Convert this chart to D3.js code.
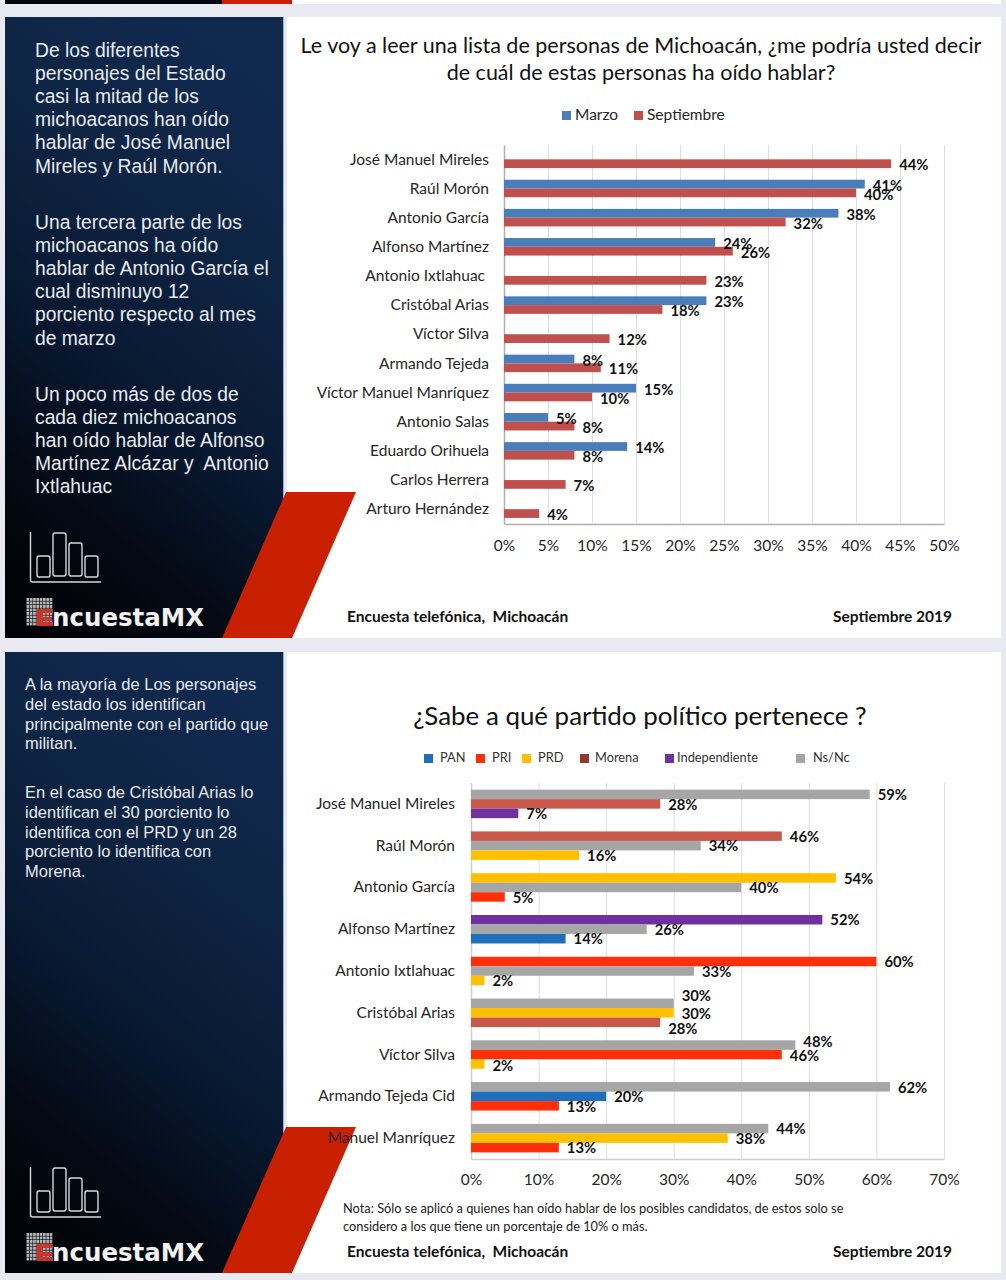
<!DOCTYPE html>
<html>
<head>
<meta charset="utf-8">
<script src="https://cdn.jsdelivr.net/npm/d3@7"></script>
<style>
  html, body { margin: 0; padding: 0; background: #e9eaf1; }
  svg { display: block; }
  text { font-family: Lato, sans-serif; fill: #1a1a1a; }
  .side text { font-family: "Liberation Sans", Arial, sans-serif; fill: #e8ebf1; }
  .cat .tick text { white-space: pre; }
</style>
</head>
<body>
<div id="chart"></div>
<script>
// first chart data
const names1 = ["José Manuel Mireles", "Raúl Morón", "Antonio García", "Alfonso Martínez",
  "Antonio Ixtlahuac ", "Cristóbal Arias", "Víctor Silva", "Armando Tejeda",
  "Víctor Manuel Manríquez", "Antonio Salas", "Eduardo Orihuela", "Carlos Herrera", "Arturo Hernández"];
const marzo = [null, 41, 38, 24, null, 23, null, 8, 15, 5, 14, null, null];
const septiembre = [44, 40, 32, 26, 23, 18, 12, 11, 10, 8, 8, 7, 4];
const ticks1 = [0, 5, 10, 15, 20, 25, 30, 35, 40, 45, 50];

// second chart data, every person only has three parties and the order changes
const names2 = ["José Manuel Mireles", "Raúl Morón", "Antonio García", "Alfonso Martínez",
  "Antonio Ixtlahuac", "Cristóbal Arias", "Víctor Silva", "Armando Tejeda Cid", "Manuel Manríquez"];
const parties2 = [
  ["Ns/Nc", "Morena", "Independiente"],
  ["Morena", "Ns/Nc", "PRD"],
  ["PRD", "Ns/Nc", "PRI"],
  ["Independiente", "Ns/Nc", "PAN"],
  ["PRI", "Ns/Nc", "PRD"],
  ["Ns/Nc", "PRD", "Morena"],
  ["Ns/Nc", "PRI", "PRD"],
  ["Ns/Nc", "PAN", "PRI"],
  ["Ns/Nc", "PRD", "PRI"]
];
const values2 = [
  [59, 28, 7],
  [46, 34, 16],
  [54, 40, 5],
  [52, 26, 14],
  [60, 33, 2],
  [30, 30, 28],
  [48, 46, 2],
  [62, 20, 13],
  [44, 38, 13]
];
const ticks2 = [0, 10, 20, 30, 40, 50, 60, 70];
const partyNames = ["PAN", "PRI", "PRD", "Morena", "Independiente", "Ns/Nc"];

const text1 = [
  ["De los diferentes", "personajes del Estado", "casi la mitad de los", "michoacanos han oído", "hablar de José Manuel", "Mireles y Raúl Morón."],
  ["Una tercera parte de los", "michoacanos ha oído", "hablar de Antonio García el", "cual disminuyo 12", "porciento respecto al mes", "de marzo"],
  ["Un poco más de dos de", "cada diez michoacanos", "han oído hablar de Alfonso", "Martínez Alcázar y  Antonio", "Ixtlahuac"]
];
const text2 = [
  ["A la mayoría de Los personajes", "del estado los identifican", "principalmente con el partido que", "militan."],
  ["En el caso de Cristóbal Arias lo", "identifican el 30 porciento lo", "identifica con el PRD y un 28", "porciento lo identifica con", "Morena."]
];

const svg = d3.select("#chart").append("svg")
  .attr("width", 1006)
  .attr("height", 1280);

const color1 = d3.scaleOrdinal().domain(["Marzo", "Septiembre"]).range(["#4a7ebb", "#c0504d"]);
const barColor = d3.scaleOrdinal().domain(partyNames)
  .range(["#1f6fbd", "#ff2f0a", "#ffc000", "#c9584b", "#7030a0", "#a6a6a6"]);
const legendColor = d3.scaleOrdinal().domain(partyNames)
  .range(["#1f6fbd", "#ff2f0a", "#ffc000", "#953735", "#7030a0", "#a6a6a6"]);

const grad = svg.append("defs").append("linearGradient")
  .attr("id", "navy")
  .attr("x1", "65%").attr("y1", "0%")
  .attr("x2", "30%").attr("y2", "100%");
grad.append("stop").attr("offset", "0%").attr("stop-color", "#10294f");
grad.append("stop").attr("offset", "30%").attr("stop-color", "#0e2443");
grad.append("stop").attr("offset", "60%").attr("stop-color", "#081830");
grad.append("stop").attr("offset", "82%").attr("stop-color", "#040a15");
grad.append("stop").attr("offset", "100%").attr("stop-color", "#010308");

// strip of the slide above, cut by the top of the screenshot
svg.append("rect").attr("x", 5).attr("y", 0).attr("width", 217).attr("height", 4).attr("fill", "#020610");
svg.append("rect").attr("x", 222).attr("y", 0).attr("width", 70).attr("height", 4).attr("fill", "#c82000");
svg.append("rect").attr("x", 292).attr("y", 0).attr("width", 709).attr("height", 4).attr("fill", "#ffffff");

function slide(top) {
  svg.append("rect").attr("x", 287).attr("y", top).attr("width", 714).attr("height", 621).attr("fill", "#ffffff");
  svg.append("rect").attr("x", 5).attr("y", top).attr("width", 278).attr("height", 621).attr("fill", "url(#navy)");
  svg.append("rect").attr("x", 283).attr("y", top).attr("width", 1).attr("height", 621).attr("fill", "#9fb0cc");
  const g = svg.append("g").attr("transform", `translate(0,${top})`);

  // red band
  g.append("polygon")
    .attr("points", "286,475 356,475 292,621 222,621")
    .attr("fill", "#c82000");

  // little chart icon
  const icon = g.append("g").attr("fill", "none").attr("stroke", "#d5d8de").attr("stroke-width", 1.4);
  icon.append("path").attr("d", "M30.5,515 V563 Q30.5,565 33,565 H101");
  [[37, 539, 13, 21], [53, 516, 13, 43], [69, 526, 13, 33], [85, 539, 13, 21]].forEach(b => {
    icon.append("rect").attr("x", b[0]).attr("y", b[1]).attr("width", b[2]).attr("height", b[3]).attr("rx", 2);
  });

  // logo, grey squares with the red E on them
  const logo = g.append("g");
  d3.range(8).forEach(i => d3.range(8).forEach(j => {
    logo.append("rect")
      .attr("x", 26.5 + i * 3.3).attr("y", 581 + j * 3.5)
      .attr("width", 2.7).attr("height", 2.9)
      .attr("fill", "#b5b5b5");
  }));
  logo.append("path").attr("d", "M37,592 H53 V596 H43 V600 H52 V604 H43 V605 H53 V609 H37 Z").attr("fill", "#c8352c");
  logo.append("text").attr("x", 52).attr("y", 609)
    .style("font-family", "'DejaVu Sans', sans-serif")
    .style("font-weight", "bold")
    .style("font-size", "24.5px")
    .style("fill", "#f2f2f2")
    .text("ncuestaMX");

  return g;
}

function sideText(parts, x, ys, size, step) {
  const g = svg.append("g").attr("class", "side");
  parts.forEach((lines, p) => {
    g.selectAll(null).data(lines).enter().append("text")
      .attr("x", x)
      .attr("y", (d, i) => ys[p] + i * step)
      .style("font-size", size + "px")
      .style("white-space", "pre")
      .text(d => d);
  });
}

function footer(y) {
  svg.append("text").attr("x", 347).attr("y", y)
    .style("font-size", "15.5px").style("font-weight", "bold").style("white-space", "pre").style("fill", "#111")
    .text("Encuesta telefónica,  Michoacán");
  svg.append("text").attr("x", 952).attr("y", y).attr("text-anchor", "end")
    .style("font-size", "15.5px").style("font-weight", "bold").style("fill", "#111")
    .text("Septiembre 2019");
}

// grid, percent ticks and names for one chart
function axes(g, x, y, h, tickVals, labelGap, tickGap, lineColor) {
  const xAxis = g.append("g")
    .attr("transform", `translate(0,${h})`)
    .call(d3.axisBottom(x).tickValues(tickVals).tickSize(-h).tickSizeOuter(0).tickPadding(tickGap).tickFormat(d => d + "%"));
  xAxis.select(".domain").attr("stroke", lineColor).attr("stroke-width", 1.5);
  xAxis.selectAll("line").attr("stroke", "#dedede");
  xAxis.selectAll("text").style("font-size", "15.5px").style("fill", "#262626");

  const yAxis = g.append("g")
    .attr("class", "cat")
    .call(d3.axisLeft(y).tickSize(0).tickPadding(labelGap));
  yAxis.select(".domain").attr("stroke", lineColor).attr("stroke-width", 1.5);
  yAxis.selectAll("text").style("font-size", "15.5px").style("fill", "#262626");
}

function valueLabels(g, rows, size) {
  g.selectAll(null).data(rows).enter().append("text")
    .attr("x", d => d.x + 8)
    .attr("y", d => d.y + d.nudge)
    .attr("dy", "0.35em")
    .style("font-size", size + "px")
    .style("font-weight", "bold")
    .style("fill", "#111")
    .text(d => d.v + "%");
}

// ---- first slide ----
slide(17);
sideText(text1, 35, [56.5, 228.5, 400.5], 19.3, 23.2);

svg.append("text").attr("x", 641).attr("y", 53).attr("text-anchor", "middle")
  .style("font-size", "21.5px").style("fill", "#111")
  .text("Le voy a leer una lista de personas de Michoacán, ¿me podría usted decir");
svg.append("text").attr("x", 641).attr("y", 80).attr("text-anchor", "middle")
  .style("font-size", "21.5px").style("fill", "#111")
  .text("de cuál de estas personas ha oído hablar?");

const plot1 = svg.append("g").attr("transform", "translate(504,145)");
const h1 = 379;
const x1 = d3.scaleLinear().domain([0, 50]).range([0, 440]);
const y1 = d3.scaleBand().domain(names1).range([0, h1]);
const slot1 = d3.scaleBand().domain(["Marzo", "Septiembre"]).range([y1.bandwidth() / 2 - 9, y1.bandwidth() / 2 + 8.5]);
axes(plot1, x1, y1, h1, ticks1, 15, 16, "#b0b0b0");

const rows1 = [];
names1.forEach((n, i) => {
  [["Marzo", marzo[i]], ["Septiembre", septiembre[i]]].forEach(s => {
    if (s[1] !== null) rows1.push({name: n, serie: s[0], v: s[1], x: x1(s[1]), y: y1(n) + slot1(s[0]) + slot1.bandwidth() / 2, nudge: 1.5});
  });
});
plot1.selectAll(null).data(rows1).enter().append("rect")
  .attr("x", 0)
  .attr("y", d => y1(d.name) + slot1(d.serie))
  .attr("width", d => x1(d.v))
  .attr("height", slot1.bandwidth())
  .attr("fill", d => color1(d.serie));
valueLabels(plot1, rows1, 14.8);

// legend
[["Marzo", 562, 575], ["Septiembre", 634, 647]].forEach(l => {
  svg.append("rect").attr("x", l[1]).attr("y", 111).attr("width", 9).attr("height", 9).attr("fill", color1(l[0]));
  svg.append("text").attr("x", l[2]).attr("y", 120).style("font-size", "15.5px").style("fill", "#262626").text(l[0]);
});
footer(622);

// ---- second slide ----
slide(652);
sideText(text2, 25, [690, 798], 16.5, 19.8);

svg.append("text").attr("x", 640).attr("y", 725).attr("text-anchor", "middle")
  .style("font-size", "25.9px").style("fill", "#111")
  .text("¿Sabe a qué partido político pertenece ?");

const plot2 = svg.append("g").attr("transform", "translate(471,783)");
const h2 = 376;
const x2 = d3.scaleLinear().domain([0, 70]).range([0, 473]);
const y2 = d3.scaleBand().domain(names2).range([0, h2]);
const slot2 = d3.scaleBand().domain([0, 1, 2]).range([y2.bandwidth() / 2 - 14.25, y2.bandwidth() / 2 + 14.25]);
axes(plot2, x2, y2, h2, ticks2, 16, 15, "#cfcfcf");

// the labels of these two people are pulled apart in the original
const pulled = {"Cristóbal Arias": [-7, 1, 7], "Víctor Silva": [-3, 1, 1.5]};
const rows2 = [];
names2.forEach((n, i) => {
  parties2[i].forEach((p, k) => {
    rows2.push({name: n, party: p, slot: k, v: values2[i][k], x: x2(values2[i][k]),
      y: y2(n) + slot2(k) + slot2.bandwidth() / 2, nudge: pulled[n] ? pulled[n][k] : 0.5});
  });
});
plot2.selectAll(null).data(rows2).enter().append("rect")
  .attr("x", 0)
  .attr("y", d => y2(d.name) + slot2(d.slot))
  .attr("width", d => x2(d.v))
  .attr("height", slot2.bandwidth())
  .attr("fill", d => barColor(d.party));
valueLabels(plot2, rows2, 14.8);

// legend
const legendBox = [424, 476, 522, 580, 665, 796];
const legendText = [440, 492, 538, 595, 677, 813];
partyNames.forEach((p, i) => {
  svg.append("rect").attr("x", legendBox[i]).attr("y", 754).attr("width", 9).attr("height", 9).attr("fill", legendColor(p));
  svg.append("text").attr("x", legendText[i]).attr("y", 762).style("font-size", "12.8px").style("fill", "#333").text(p);
});

svg.append("text").attr("x", 343).attr("y", 1213).style("font-size", "12.8px").style("fill", "#222")
  .text("Nota: Sólo se aplicó a quienes han oído hablar de los posibles candidatos, de estos solo se");
svg.append("text").attr("x", 343).attr("y", 1231).style("font-size", "12.8px").style("fill", "#222")
  .text("considero a los que tiene un porcentaje de 10% o más.");
footer(1257);
</script>
</body>
</html>
